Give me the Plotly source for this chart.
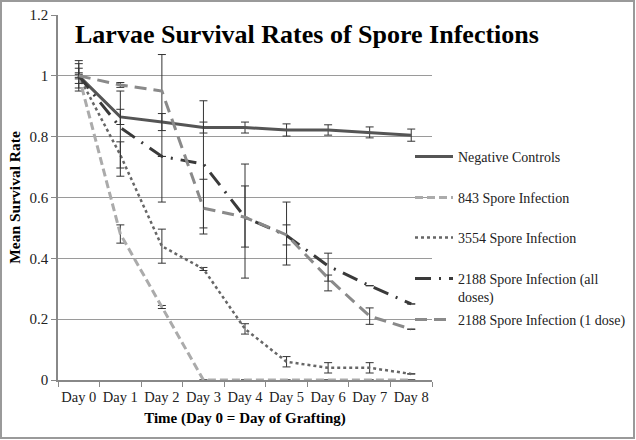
import plotly.graph_objects as go

days = ["Day 0", "Day 1", "Day 2", "Day 3", "Day 4", "Day 5", "Day 6", "Day 7", "Day 8"]

neg = [1.0, 0.865, 0.848, 0.83, 0.83, 0.822, 0.822, 0.814, 0.805]
neg_err = [0.05, 0.025, 0.028, 0.018, 0.018, 0.02, 0.017, 0.018, 0.02]

s843 = [1.0, 0.48, 0.24, 0.0, 0.0, 0.0, 0.0, 0.0, 0.0]
s843_err = [0.04, 0.03, 0.005, None, None, None, None, None, None]

s3554 = [1.0, 0.74, 0.44, 0.365, 0.168, 0.06, 0.04, 0.04, 0.02]
s3554_err = [0.01, 0.043, 0.056, 0.005, 0.017, 0.017, 0.017, 0.017, None]

s2188_all = [1.0, 0.83, 0.735, 0.71, 0.535, 0.475, 0.375, 0.31, 0.25]
s2188_all_plus = [0.025, 0.12, None, 0.208, 0.175, 0.11, 0.042, None, None]
s2188_all_minus = [0.025, 0.16, None, 0.23, 0.2, 0.097, 0.082, None, None]

s2188_one = [1.0, 0.97, 0.95, 0.565, 0.535, 0.477, 0.335, 0.21, 0.167]
s2188_one_plus = [0.005, 0.008, 0.12, 0.095, 0.103, 0.033, 0.01, 0.027, None]
s2188_one_minus = [0.005, 0.008, 0.365, 0.065, 0.098, 0.033, 0.01, 0.027, None]

series_names = ["Negative Controls", "843 Spore Infection", "3554 Spore Infection",
                "2188 Spore Infection (all<br>doses)", "2188 Spore Infection (1 dose)"]

SERIF = "Liberation Serif"
ERRC = "#333333"

def eb(plus, minus=None):
    d = dict(type="data", array=plus, visible=True, color=ERRC, thickness=1, width=4)
    if minus is not None:
        d["arrayminus"] = minus
        d["symmetric"] = False
    return d

fig = go.Figure()
fig.add_trace(go.Scatter(x=days, y=neg, name=series_names[0], mode="lines",
                         line=dict(color="#555555", width=3), error_y=eb(neg_err),
                         legend="legend"))
fig.add_trace(go.Scatter(x=days, y=s843, name=series_names[1], mode="lines",
                         line=dict(color="#ababab", width=3, dash="8px,4px"), error_y=eb(s843_err),
                         legend="legend2"))
fig.add_trace(go.Scatter(x=days, y=s3554, name=series_names[2], mode="lines",
                         line=dict(color="#666666", width=2.5, dash="dot"), error_y=eb(s3554_err),
                         legend="legend3"))
fig.add_trace(go.Scatter(x=days, y=s2188_all, name=series_names[3], mode="lines",
                         line=dict(color="#3a3a3a", width=3, dash="16px,8px,2px,8px"),
                         error_y=eb(s2188_all_plus, s2188_all_minus), legend="legend4"))
fig.add_trace(go.Scatter(x=days, y=s2188_one, name=series_names[4], mode="lines",
                         line=dict(color="#8a8a8a", width=3, dash="12px,7px"),
                         error_y=eb(s2188_one_plus, s2188_one_minus), legend="legend5"))

L, R, T, B = 58, 204, 15, 60
W, H = 636, 440
pw, ph = W - L - R, H - T - B

def leg(ypix, anchor="middle"):
    return dict(x=(410 - L) / pw, xanchor="left", y=(H - B - ypix) / ph, yanchor=anchor,
                bgcolor="rgba(0,0,0,0)", font=dict(family=SERIF, size=14, color="#222222"),
                itemwidth=38, valign="top", borderwidth=0)

fig.update_layout(
    width=W, height=H,
    margin=dict(l=L, r=R, t=T, b=B, autoexpand=False),
    paper_bgcolor="white", plot_bgcolor="white",
    showlegend=True,
    legend=leg(157), legend2=leg(198), legend3=leg(238),
    legend4=leg(288), legend5=leg(320),
    title=dict(text="Larvae Survival Rates of Spore Infections",
               font=dict(family=SERIF, size=26, color="black", weight="bold"),
               x=(75 - L) / pw, xref="paper", xanchor="left",
               y=1 - 34 / H, yanchor="middle"),
    xaxis=dict(type="category", range=[-0.5, 8.5], tickson="boundaries",
               ticks="outside", ticklen=5, tickcolor="#888888", tickangle=0,
               showline=True, linecolor="#888888", linewidth=1.5, showgrid=False,
               automargin=False, ticklabelstandoff=3,
               tickfont=dict(family=SERIF, size=14.5, color="#222222"),
               title=dict(text="Time (Day 0 = Day of Grafting)", standoff=8,
                          font=dict(family=SERIF, size=15, color="black", weight="bold"))),
    yaxis=dict(range=[0, 1.2], dtick=0.2, tickformat="~g",
               ticks="outside", ticklen=5, tickcolor="#888888",
               showline=True, linecolor="#888888", linewidth=1.5,
               showgrid=True, gridcolor="#9a9a9a", gridwidth=1, zeroline=False,
               automargin=False,
               tickfont=dict(family=SERIF, size=15, color="#222222"),
               title=dict(text="Mean Survival Rate", standoff=5,
                          font=dict(family=SERIF, size=15.5, color="black", weight="bold"))),
    shapes=[dict(type="rect", xref="paper", yref="paper",
                 x0=(1 - L) / pw, x1=(W - 2 - L) / pw,
                 y0=-(B - 2) / ph, y1=1 + (T - 1) / ph,
                 line=dict(color="#9a9a9a", width=2), layer="below")],
)

fig.write_html("out.html", config={"displayModeBar": False},
               post_script="document.body.style.margin='0px';document.body.style.overflow='hidden';")
